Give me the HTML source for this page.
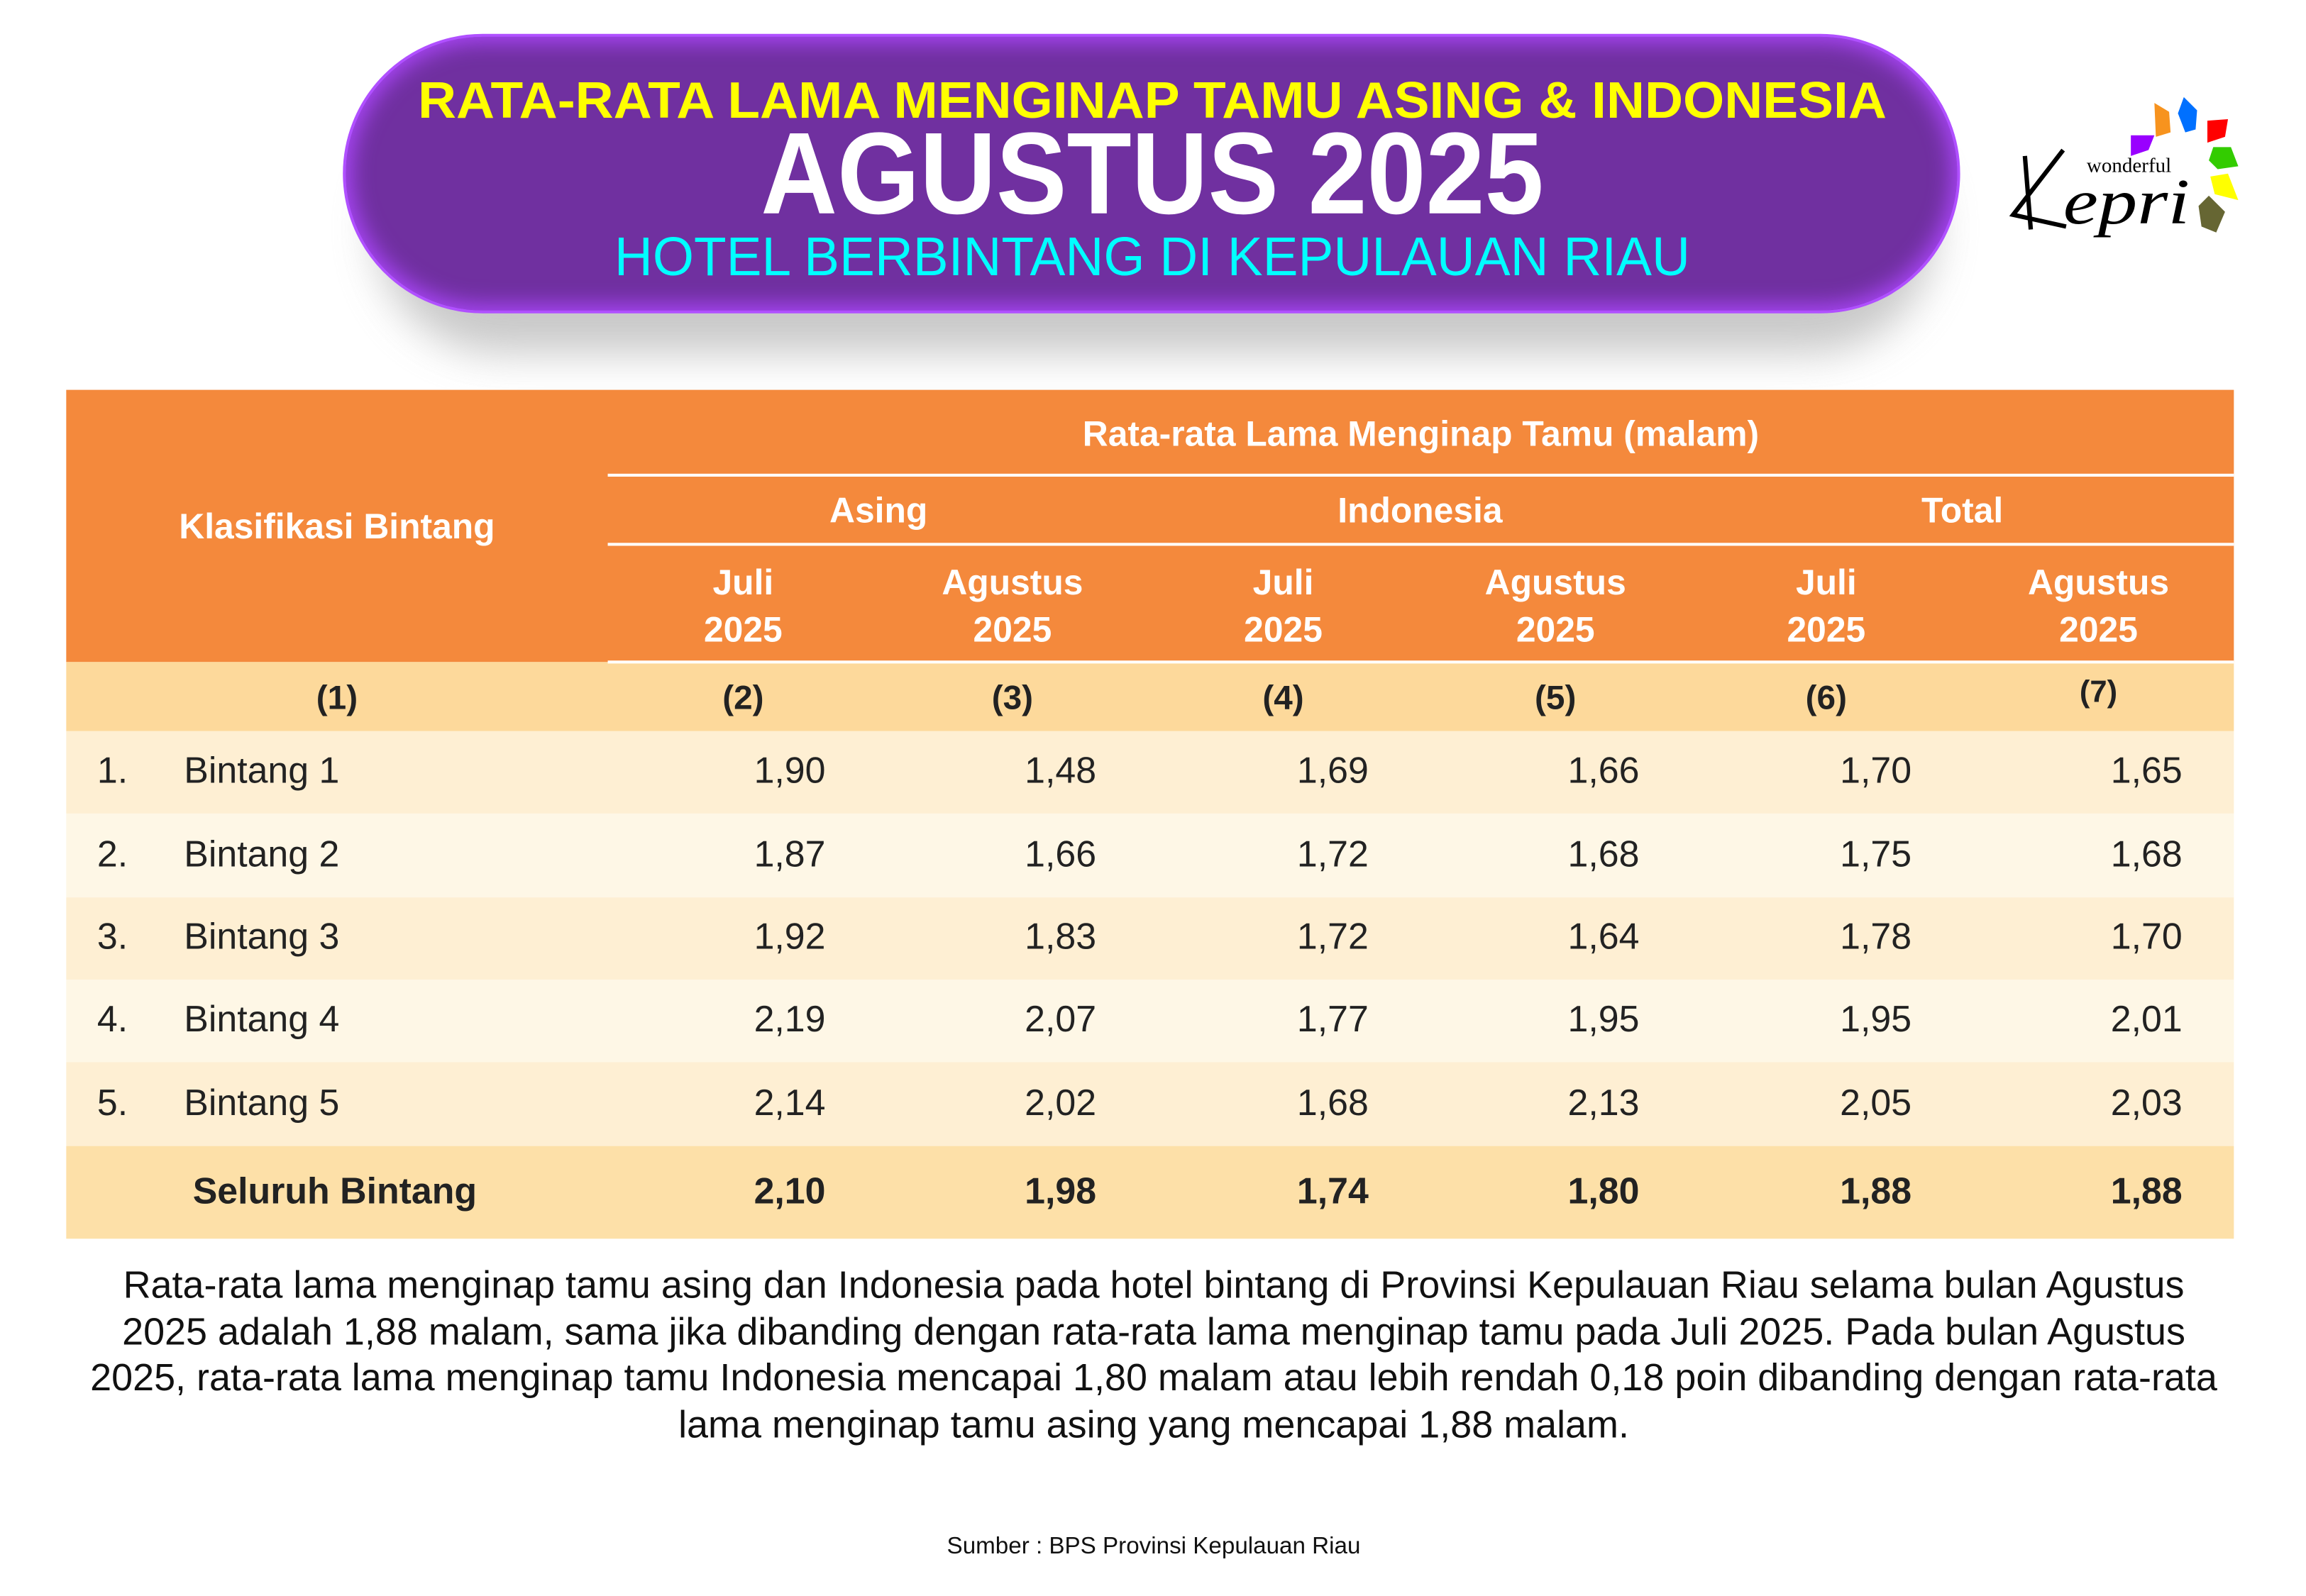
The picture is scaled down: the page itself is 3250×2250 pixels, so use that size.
<!DOCTYPE html>
<html><head><meta charset="utf-8"><style>
html,body{margin:0;padding:0;background:#fff;}
#wrap{width:3250px;height:2250px;overflow:hidden;position:relative;background:#fff;}
#s{position:absolute;left:0;top:0;width:1570px;height:1085px;transform:scale(2.074);transform-origin:0 0;font-family:"Liberation Sans",sans-serif;}
.a{position:absolute;}
.c{position:absolute;text-align:center;white-space:nowrap;}
.r{position:absolute;text-align:right;white-space:nowrap;}
.h{color:#fff;font-weight:bold;font-size:24px;}
.n{font-size:25px;color:#222;}
.b{font-weight:bold;}
</style></head><body><div id="wrap"><div id="s">
<div class="a" style="left:255px;top:70px;width:1060px;height:170px;border-radius:90px;background:#bbb;filter:blur(14px);opacity:.8"></div>
<div class="a" style="left:233px;top:23px;width:1099px;height:190px;border-radius:95px;background:#7030a0;box-shadow:inset 0 0 14px 4px #a845f5;border:2px solid #b050ff;box-sizing:border-box"></div>
<svg class="a" style="left:0;top:0" width="1570" height="240">
<text x="783" y="80" text-anchor="middle" textLength="998" lengthAdjust="spacingAndGlyphs" font-family="Liberation Sans" font-weight="bold" font-size="35" fill="#ffff00">RATA-RATA LAMA MENGINAP TAMU ASING &amp; INDONESIA</text>
<text x="783" y="145" text-anchor="middle" textLength="532" lengthAdjust="spacingAndGlyphs" font-family="Liberation Sans" font-weight="bold" font-size="79" fill="#fff">AGUSTUS 2025</text>
<text x="783" y="187" text-anchor="middle" textLength="731" lengthAdjust="spacingAndGlyphs" font-family="Liberation Sans" font-size="37" fill="#00ffff">HOTEL BERBINTANG DI KEPULAUAN RIAU</text>
<g transform="translate(1366,68)">
<path d="M98 2 l10 6 l1 14 l-10 3 z" fill="#f7931e"/>
<path d="M118 -2 l9 9 l-1 13 l-7 2 l-5-13 z" fill="#0070ff"/>
<path d="M134 14 l14 -1 l-2 12 l-12 4 z" fill="#ff0000"/>
<path d="M82 24 l16 0 l-4 10 l-12 4 z" fill="#9900ff"/>
<path d="M138 32 l12 0 l5 13 l-14 2 l-6-6 z" fill="#33cc00"/>
<path d="M136 52 l12 -2 l7 18 l-16 -4 z" fill="#ffff00"/>
<path d="M128 72 l7 -7 l11 11 l-6 14 l-10 -4 z" fill="#666633"/>
<text x="52" y="49" font-family="Liberation Serif" font-size="14" fill="#000">wonderful</text>
<path d="M10 38 l4 50 M36 34 l-34 44 l36 8" stroke="#000" stroke-width="3" fill="none"/>
<text x="36" y="84" font-family="Liberation Serif" font-style="italic" font-size="44" fill="#000" textLength="86" lengthAdjust="spacingAndGlyphs">epri</text>
</g>
</svg>
<div class="a" style="left:45px;top:265px;width:1473px;height:185px;background:#f4893c"></div>
<div class="a" style="left:413px;top:322px;width:1105px;height:2px;background:#fff"></div>
<div class="a" style="left:413px;top:369px;width:1105px;height:2px;background:#fff"></div>
<div class="a" style="left:45px;top:450px;width:1473px;height:47px;background:#fdd99b"></div>
<div class="a" style="left:413px;top:449px;width:1105px;height:2px;background:#fff"></div>
<div class="a" style="left:45px;top:497px;width:1473px;height:56px;background:#feefd3"></div>
<div class="a" style="left:45px;top:553px;width:1473px;height:57px;background:#fef7e6"></div>
<div class="a" style="left:45px;top:610px;width:1473px;height:56px;background:#feefd3"></div>
<div class="a" style="left:45px;top:666px;width:1473px;height:56px;background:#fef7e6"></div>
<div class="a" style="left:45px;top:722px;width:1473px;height:57px;background:#feefd3"></div>
<div class="a" style="left:45px;top:779px;width:1473px;height:63px;background:#fde0a8"></div>
<div class="c h" style="left:413px;width:1105px;top:282px">Rata-rata Lama Menginap Tamu (malam)</div>
<div class="c h" style="left:45px;width:368px;top:345px">Klasifikasi Bintang</div>
<div class="c h" style="left:413px;width:368px;top:334px">Asing</div>
<div class="c h" style="left:781px;width:368px;top:334px">Indonesia</div>
<div class="c h" style="left:1149px;width:369px;top:334px">Total</div>
<div class="c h" style="left:405px;width:200px;top:381px;line-height:32px">Juli<br>2025</div>
<div class="c h" style="left:588px;width:200px;top:381px;line-height:32px">Agustus<br>2025</div>
<div class="c h" style="left:772px;width:200px;top:381px;line-height:32px">Juli<br>2025</div>
<div class="c h" style="left:957px;width:200px;top:381px;line-height:32px">Agustus<br>2025</div>
<div class="c h" style="left:1141px;width:200px;top:381px;line-height:32px">Juli<br>2025</div>
<div class="c h" style="left:1326px;width:200px;top:381px;line-height:32px">Agustus<br>2025</div>
<div class="c n b" style="left:129px;width:200px;top:461px;font-size:23px">(1)</div>
<div class="c n b" style="left:405px;width:200px;top:461px;font-size:23px">(2)</div>
<div class="c n b" style="left:588px;width:200px;top:461px;font-size:23px">(3)</div>
<div class="c n b" style="left:772px;width:200px;top:461px;font-size:23px">(4)</div>
<div class="c n b" style="left:957px;width:200px;top:461px;font-size:23px">(5)</div>
<div class="c n b" style="left:1141px;width:200px;top:461px;font-size:23px">(6)</div>
<div class="c n b" style="left:1326px;width:200px;top:459px;font-size:21px">(7)</div>
<div id="rows"></div>
<div class="c" style="left:0;width:1568px;top:858px;font-size:26px;line-height:31.5px;color:#111">Rata-rata lama menginap tamu asing dan Indonesia pada hotel bintang di Provinsi Kepulauan Riau selama bulan Agustus<br>2025 adalah 1,88 malam, sama jika dibanding dengan rata-rata lama menginap tamu pada Juli 2025. Pada bulan Agustus<br>2025, rata-rata lama menginap tamu Indonesia mencapai 1,80 malam atau lebih rendah 0,18 poin dibanding dengan rata-rata<br>lama menginap tamu asing yang mencapai 1,88 malam.</div>
<div class="c" style="left:0;width:1568px;top:1043px;font-size:16px;color:#111">Sumber : BPS Provinsi Kepulauan Riau</div>
<script>
var d=[["1.","Bintang 1","1,90","1,48","1,69","1,66","1,70","1,65"],
["2.","Bintang 2","1,87","1,66","1,72","1,68","1,75","1,68"],
["3.","Bintang 3","1,92","1,83","1,72","1,64","1,78","1,70"],
["4.","Bintang 4","2,19","2,07","1,77","1,95","1,95","2,01"],
["5.","Bintang 5","2,14","2,02","1,68","2,13","2,05","2,03"]];
var ys=[510,567,623,679,736],ends=[561,745,930,1114,1299,1483],h="";
d.forEach(function(r,i){var y=ys[i];
h+='<div class="a n" style="left:66px;top:'+y+'px">'+r[0]+'</div><div class="a n" style="left:125px;top:'+y+'px">'+r[1]+'</div>';
for(var j=0;j<6;j++)h+='<div class="r n" style="left:'+(ends[j]-100)+'px;width:100px;top:'+y+'px">'+r[j+2]+'</div>';});
var s=["2,10","1,98","1,74","1,80","1,88","1,88"];
h+='<div class="a n b" style="left:131px;top:796px">Seluruh Bintang</div>';
for(var j=0;j<6;j++)h+='<div class="r n b" style="left:'+(ends[j]-100)+'px;width:100px;top:796px">'+s[j]+'</div>';
document.getElementById("rows").outerHTML=h;
</script>
</div></div></body></html>
